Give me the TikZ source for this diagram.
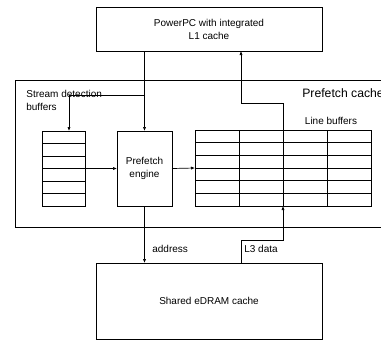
\documentclass[tikz,border=0pt]{standalone}
\usepackage{fontspec}
\setmainfont{Liberation Sans}
\usetikzlibrary{arrows.meta}
\begin{document}
\begin{tikzpicture}[x=1pt,y=-1pt,line width=0.7pt,
  box/.style={draw,inner sep=0pt,outer sep=0pt,align=center,font=\fontsize{10}{13}\selectfont},
  arr/.style={-{Latex[length=4pt,width=3.2pt]}},
  lbl/.style={inner sep=0pt,font=\fontsize{10}{13}\selectfont,align=left}]
\useasboundingbox (0,0) rectangle (381,341);
% outer prefetch cache box
\node[box,anchor=north west,minimum width=380pt,minimum height=147pt] (pfc) at (15,80) {};
\node[inner sep=0pt,anchor=west,font=\fontsize{12.2}{13}\selectfont] (pfct) at (302,93) {Prefetch cache};
% top and bottom boxes
\node[box,minimum width=226pt,minimum height=44pt] (pc) at (209,29) {PowerPC with integrated\\L1 cache};
\node[box,minimum width=226pt,minimum height=76pt] (ed) at (209,301) {Shared eDRAM cache};
% stream detection buffers
\node[box,minimum width=43pt,minimum height=75pt] (sb) at (63.5,168.5) {};
\node[lbl,anchor=north west] (sbt) at (26,90) {Stream detection\\buffers};
\foreach \i in {1,...,5} \draw ([yshift=-\i*12.5pt]sb.north west) -- ([yshift=-\i*12.5pt]sb.north east);
% prefetch engine
\node[box,minimum width=55pt,minimum height=75pt] (pe) at (144.5,168.5) {Prefetch\\engine};
% line buffers
\node[box,minimum width=176pt,minimum height=76pt] (lb) at (283,168) {};
\node[lbl,anchor=center] (lbt) at (331,121) {Line buffers};
\foreach \i in {1,...,5} \draw ([yshift=-\i*12.667pt]lb.north west) -- ([yshift=-\i*12.667pt]lb.north east);
\foreach \i in {1,2,3} \draw ([xshift=\i*44pt]lb.north west) -- ([xshift=\i*44pt]lb.south west);
% connectors
\coordinate (split) at (145,95);
\coordinate (sbin) at (69,131);
\coordinate (ret) at (241,103);
\coordinate (l3) at (241,240);
\draw[arr] (pc.south -| pe.north) -- (pe.north);
\draw[arr] (split) -| (sbin);
\draw[arr] (lb.north) |- (ret) -- (ret |- pc.south);
\draw[arr] (sb.east) -- (pe.west);
\draw[arr] (pe.east) -- (lb.west);
\draw[arr] (pe.south) -- (pe.south |- ed.north);
\draw[arr] (l3 |- ed.north) -- (l3) -| (lb.south);
\node[lbl,anchor=west] (addr) at (152,249) {address};
\node[lbl,anchor=west] (l3t) at (244,249) {L3 data};
\end{tikzpicture}
\end{document}
